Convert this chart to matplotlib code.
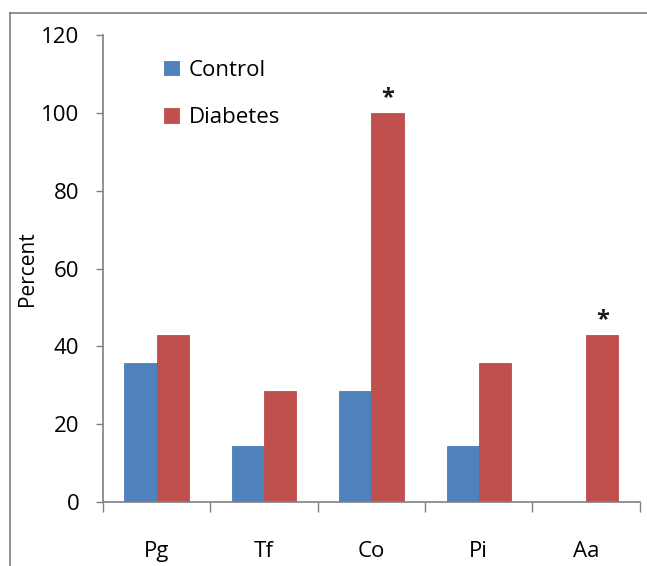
import numpy as np
import matplotlib.pyplot as plt
from matplotlib.lines import Line2D

# Data
categories = ['Pg', 'Tf', 'Co', 'Pi', 'Aa']
control = [35.7, 14.3, 28.6, 14.3, 0]
diabetes = [42.9, 28.6, 100, 35.7, 42.9]
starred = ['Co', 'Aa']

plt.rcParams['font.family'] = ['Open Sans', 'DejaVu Sans']

fig = plt.figure(figsize=(6.47, 5.66), dpi=100)
ax = fig.add_axes([0.159, 0.113, 0.83, 0.825])

x = np.arange(len(categories))
w = 0.3
ax.bar(x - w/2, control, w, color='#4F81BD', edgecolor='#4A7EBB', linewidth=0.6, label='Control')
ax.bar(x + w/2, diabetes, w, color='#C0504D', edgecolor='#BE4B48', linewidth=0.6, label='Diabetes')

for i, c in enumerate(categories):
    if c in starred:
        ax.text(x[i] + w/2, diabetes[i] + 0.8, '*', ha='center', va='bottom',
                fontsize=17, fontweight='bold', color='#1a1a1a')

ax.set_xlim(-0.5, len(categories) - 0.5)
ax.set_ylim(0, 120)
ax.set_yticks(range(0, 121, 20))
ax.tick_params(axis='y', direction='out', length=5, width=1, color='#808080', labelsize=16, pad=12)
ax.set_xticks(x)
ax.set_xticklabels(categories)
ax.set_xticks(np.arange(-0.5, len(categories)), minor=True)
ax.tick_params(axis='x', which='major', length=0, labelsize=16, pad=28)
ax.tick_params(axis='x', which='minor', direction='out', length=7, width=1, color='#808080')

for s in ['top', 'right']:
    ax.spines[s].set_visible(False)
for s in ['left', 'bottom']:
    ax.spines[s].set_color('#808080')
    ax.spines[s].set_linewidth(1.2)

ax.set_ylabel('Percent', fontsize=15)
ax.yaxis.set_label_coords(-0.12, 0.5)

ax.legend(loc='upper left', bbox_to_anchor=(0.077, 0.99), frameon=False, fontsize=16,
          handlelength=0.65, handleheight=0.65, handletextpad=0.45, labelspacing=1.2)

# outer frame (left and top edges)
fig.add_artist(Line2D([9.5/647, 9.5/647], [0, 1 - 13/566], transform=fig.transFigure, color='#7f7f7f', lw=1.2))
fig.add_artist(Line2D([9.5/647, 1], [1 - 13/566, 1 - 13/566], transform=fig.transFigure, color='#7f7f7f', lw=1.2))

fig.savefig('out.png', dpi=100)
